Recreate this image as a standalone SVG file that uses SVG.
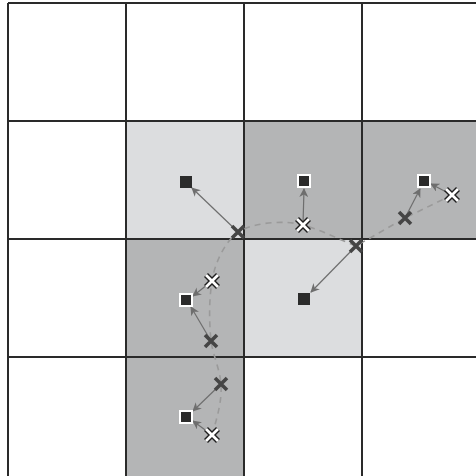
<svg xmlns="http://www.w3.org/2000/svg" width="476" height="476" viewBox="0 0 476 476">
<style>
.light{fill:#dcdddf}
.dark{fill:#b4b5b6}
.grid{stroke:#2a2a2a;stroke-width:2;fill:none}
.arrow{stroke:#6e6e6e;stroke-width:1.2;fill:none;marker-end:url(#ah)}
.path{stroke:#9a9a9a;stroke-width:1.6;fill:none;stroke-dasharray:6 5}
.sq{fill:#2b2b2b}
.sqw{fill:#2b2b2b;stroke:#ffffff;stroke-width:2}
</style>
<defs>
<marker id="ah" viewBox="0 0 10 10" refX="9" refY="5" markerWidth="9" markerHeight="9" markerUnits="userSpaceOnUse" orient="auto">
<path d="M0,0 L10,5 L0,10 L3,5 Z" fill="#6e6e6e"/>
</marker>
<g id="xd"><path d="M-6,-6 L6,6 M-6,6 L6,-6" stroke="#454545" stroke-width="3.6"/></g>
<g id="xw"><path d="M-6,-6 L6,6 M-6,6 L6,-6" stroke="#1e1e1e" stroke-width="5.6"/><path d="M-6,-6 L6,6 M-6,6 L6,-6" stroke="#ffffff" stroke-width="2.8"/></g>
</defs>
<rect width="476" height="476" fill="#ffffff"/>
<g id="cells">
<rect class="light" x="126" y="121" width="118" height="118"/>
<rect class="dark" x="244" y="121" width="118" height="118"/>
<rect class="dark" x="362" y="121" width="118" height="118"/>
<rect class="dark" x="126" y="239" width="118" height="118"/>
<rect class="light" x="244" y="239" width="118" height="118"/>
<rect class="dark" x="126" y="357" width="118" height="120"/>
</g>
<g id="grid" class="grid">
<path d="M8,3 V480 M126,3 V480 M244,3 V480 M362,3 V480"/>
<path d="M8,3 H480 M8,121 H480 M8,239 H480 M8,357 H480"/>
</g>
<g id="connectors">
<path class="path" d="M212,435 C218,415 222,400 221,384 C220,370 213,355 211,341 C209,320 209,300 212,281 C215,262 225,242 238,232 C255,222 285,220 303,225 C322,230 340,240 356,246 L405,218 L452,195"/>
<line class="arrow" x1="238" y1="232" x2="192" y2="188"/>
<line class="arrow" x1="303" y1="225" x2="304" y2="189"/>
<line class="arrow" x1="405" y1="218" x2="420" y2="189"/>
<line class="arrow" x1="452" y1="195" x2="431" y2="184"/>
<line class="arrow" x1="356" y1="246" x2="311" y2="292"/>
<line class="arrow" x1="212" y1="281" x2="193" y2="296"/>
<line class="arrow" x1="211" y1="341" x2="191" y2="307"/>
<line class="arrow" x1="221" y1="384" x2="193" y2="411"/>
<line class="arrow" x1="212" y1="435" x2="193" y2="421"/>
</g>
<g id="squares">
<rect id="s1" class="sq" x="180" y="176" width="12" height="12"/>
<rect id="s2" class="sqw" x="298" y="175" width="12" height="12"/>
<rect id="s3" class="sqw" x="418" y="175" width="12" height="12"/>
<rect id="s4" class="sq" x="298" y="293" width="12" height="12"/>
<rect id="s5" class="sqw" x="180" y="294" width="12" height="12"/>
<rect id="s6" class="sqw" x="180" y="411" width="12" height="12"/>
</g>
<g id="crosses">
<use id="x1" href="#xd" x="238" y="232"/>
<use id="x2" href="#xw" x="303" y="225"/>
<use id="x3" href="#xd" x="405" y="218"/>
<use id="x4" href="#xw" x="452" y="195"/>
<use id="x5" href="#xd" x="356" y="246"/>
<use id="x6" href="#xw" x="212" y="281"/>
<use id="x7" href="#xd" x="211" y="341"/>
<use id="x8" href="#xd" x="221" y="384"/>
<use id="x9" href="#xw" x="212" y="435"/>
</g>
</svg>
